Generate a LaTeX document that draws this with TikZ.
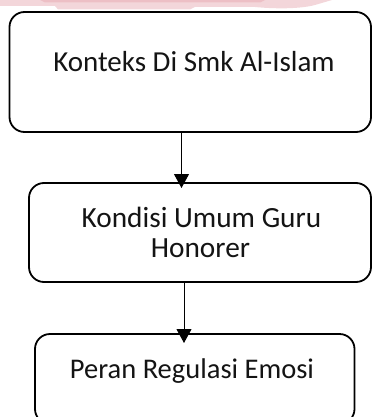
\documentclass[tikz,border=0pt]{standalone}
\usepackage{fontspec}
\setmainfont{Carlito}
\usetikzlibrary{arrows.meta}
\definecolor{wmpink}{RGB}{243,214,218}
\definecolor{wmred}{RGB}{232,170,178}
\tikzset{
  box/.style={draw=black, line width=1.8pt, rounded corners=15pt, fill=white, inner sep=0pt},
  lbl/.style={font=\fontsize{28.5}{31}\selectfont, text=black!92, inner sep=0pt, anchor=base},
  arr/.style={draw=black, line width=1pt, -{Triangle[length=14pt,width=15pt]}}
}
\begin{document}
\begin{tikzpicture}[x=1pt,y=-1pt]
\useasboundingbox (0,0) rectangle (372,417);
\clip (0,0) rectangle (372,417);
% faint watermark at the top edge
\fill[wmpink] (0,0) -- (0,6) -- (55,6) -- (58,9.5) -- (190,9.5) -- (195,7) -- (255,7)
  .. controls (275,9) and (300,9) .. (315,5) -- (332,0) -- cycle;
\fill[wmred, opacity=0.5] (40,0) -- (45,2.5) -- (260,2.5) -- (265,0) -- cycle;
% boxes
\node[box, minimum width=361.5pt, minimum height=120pt] (b1) at (190.25,72) {};
\node[box, minimum width=342pt, minimum height=99pt] (b2) at (200,232.5) {};
\node[box, minimum width=319.5pt, minimum height=90pt] (b3) at (194.75,379) {};
% texts
\node[lbl, font=\fontsize{29}{31}\selectfont] (t1) at (194,72) {Konteks Di Smk Al-Islam};
\node[lbl, font=\fontsize{29.3}{31}\selectfont] (t2a) at (201.5,227) {Kondisi Umum Guru};
\node[lbl, font=\fontsize{29.3}{31}\selectfont] (t2b) at (200.5,257) {Honorer};
\node[lbl] (t3) at (192,378) {Peran Regulasi Emosi};
% connectors
\coordinate (a1s) at (181.5,133);
\coordinate (a1e) at (181.5,188);
\coordinate (a2s) at (184,283);
\coordinate (a2e) at (184,343);
\draw[arr] (a1s) -- (a1e);
\draw[arr] (a2s) -- (a2e);
\end{tikzpicture}
\end{document}
